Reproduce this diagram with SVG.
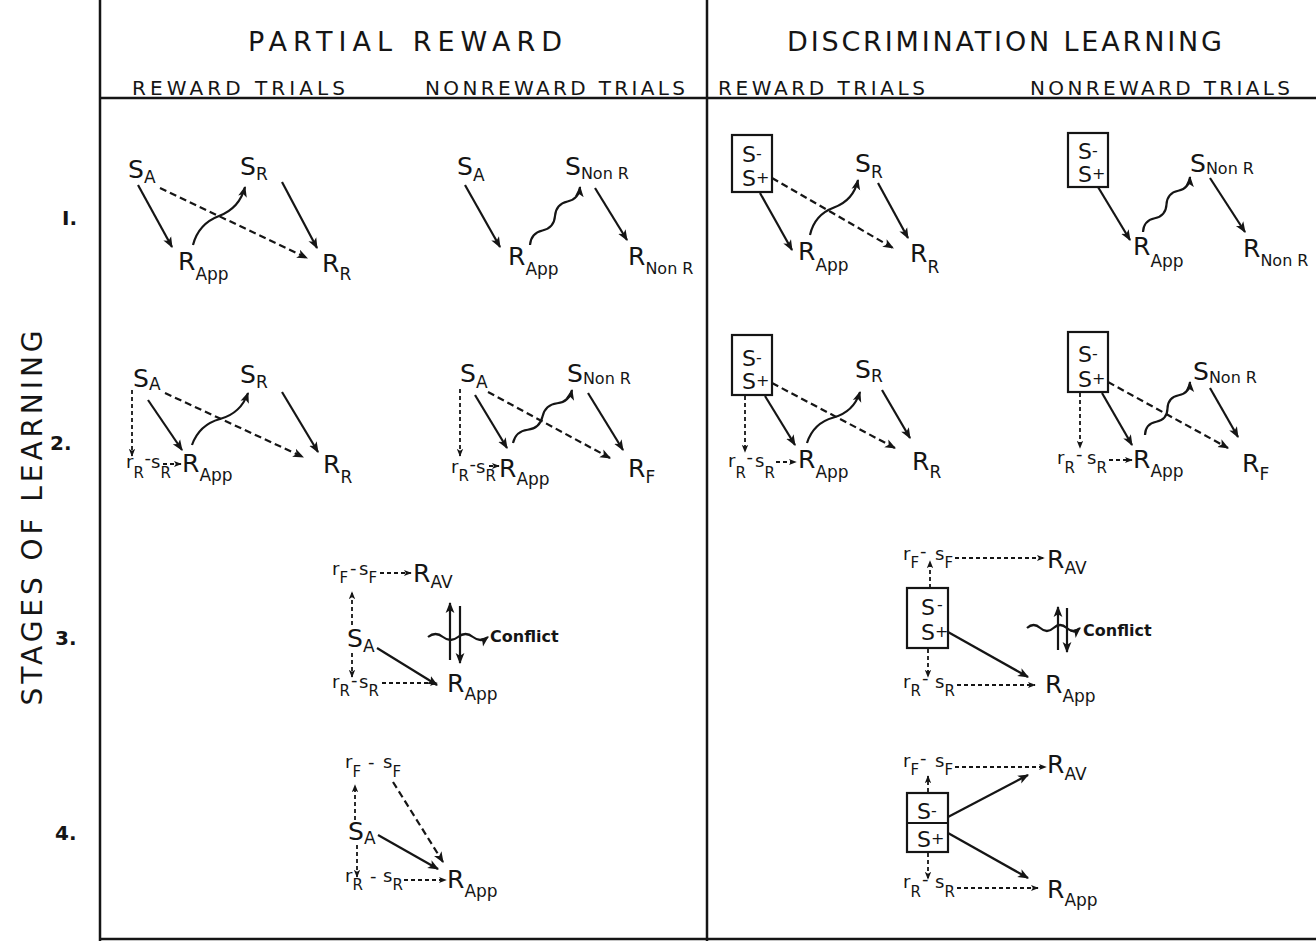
<svg xmlns="http://www.w3.org/2000/svg" width="1316" height="943" viewBox="0 0 1316 943">
<style>
text{font-family:"DejaVu Sans","Liberation Sans",Arial,sans-serif;fill:#151515}
.b{font-size:25px}
.sb{font-size:17px}
.nr{font-size:16px}
.lc{font-size:18px}
.ls{font-size:15px}
.h1{font-size:27px}
.h2{font-size:20px}
.bx{font-size:22px}
.pm{font-size:16px}
.cf{font-size:16px;font-weight:bold}
.num{font-size:20px;font-weight:bold}
.frame{stroke:#151515;stroke-width:2.5;fill:none}
.box{fill:none;stroke:#151515;stroke-width:2.2}
.s{fill:none;stroke:#151515;stroke-width:2.2;marker-end:url(#a)}
.d{fill:none;stroke:#151515;stroke-width:2.2;stroke-dasharray:7 4;marker-end:url(#a)}
.sd{fill:none;stroke:#151515;stroke-width:1.8;stroke-dasharray:4 3;marker-end:url(#a2)}
.w{fill:none;stroke:#151515;stroke-width:2.2;marker-end:url(#a)}
</style>
<defs>
<marker id="a" viewBox="0 0 10 10" refX="9" refY="5" markerWidth="11" markerHeight="11" markerUnits="userSpaceOnUse" orient="auto"><path d="M0,1 L10,5 L0,9 L2.5,5 z" fill="#151515"/></marker>
<marker id="a2" viewBox="0 0 10 10" refX="9" refY="5" markerWidth="8" markerHeight="8" markerUnits="userSpaceOnUse" orient="auto"><path d="M0,1 L10,5 L0,9 L2.5,5 z" fill="#151515"/></marker>
</defs>
<rect width="1316" height="943" fill="#fff"/>

<g id="frame">
<line class="frame" x1="100" y1="0" x2="100" y2="941"/>
<line class="frame" x1="707" y1="0" x2="707" y2="941"/>
<line class="frame" x1="100" y1="98" x2="1316" y2="98"/>
<line class="frame" x1="100" y1="939" x2="1316" y2="939"/>
</g>

<g id="headers">
<text class="h1" x="248" y="51" textLength="314" lengthAdjust="spacing">PARTIAL REWARD</text>
<text class="h1" x="787" y="51" textLength="435" lengthAdjust="spacing">DISCRIMINATION LEARNING</text>
<text class="h2" x="132" y="95" textLength="213" lengthAdjust="spacing">REWARD TRIALS</text>
<text class="h2" x="425" y="95" textLength="260" lengthAdjust="spacing">NONREWARD TRIALS</text>
<text class="h2" x="718" y="95" textLength="207" lengthAdjust="spacing">REWARD TRIALS</text>
<text class="h2" x="1030" y="95" textLength="260" lengthAdjust="spacing">NONREWARD TRIALS</text>
<text transform="translate(42,518) rotate(-90)" text-anchor="middle" font-size="28" textLength="375" lengthAdjust="spacing">STAGES OF LEARNING</text>
<text class="num" x="62" y="225">I.</text>
<text class="num" x="50" y="450">2.</text>
<text class="num" x="55" y="645">3.</text>
<text class="num" x="55" y="840">4.</text>
</g>

<!-- Stage 1 Partial reward, reward trials -->
<g id="s1pr-SA"><text class="b" x="128" y="178">S<tspan class="sb" dy="5">A</tspan></text></g>
<g id="s1pr-SR"><text class="b" x="240" y="175">S<tspan class="sb" dy="5">R</tspan></text></g>
<g id="s1pr-RApp"><text class="b" x="178" y="270">R<tspan class="sb" dy="10">App</tspan></text></g>
<g id="s1pr-RR"><text class="b" x="322" y="272">R<tspan class="sb" dy="8">R</tspan></text></g>

<!-- Stage 1 Partial reward, nonreward -->
<g id="s1pn-SA"><text class="b" x="457" y="175">S<tspan class="sb" dy="6">A</tspan></text></g>
<g id="s1pn-SNonR"><text class="b" x="565" y="175">S<tspan class="nr" dy="4">Non R</tspan></text></g>
<g id="s1pn-RApp"><text class="b" x="508" y="265">R<tspan class="sb" dy="10">App</tspan></text></g>
<g id="s1pn-RNonR"><text class="b" x="628" y="265">R<tspan class="nr" dy="9">Non R</tspan></text></g>

<!-- Stage 1 Discrimination, reward -->
<g id="s1dr-S"><rect class="box" x="732" y="135" width="40" height="57"/><text class="bx" x="742" y="162">S<tspan class="pm" dy="-3">-</tspan></text><text class="bx" x="742" y="186">S<tspan class="pm" dy="-3">+</tspan></text></g>
<g id="s1dr-SR"><text class="b" x="855" y="172">S<tspan class="sb" dy="6">R</tspan></text></g>
<g id="s1dr-RApp"><text class="b" x="798" y="260">R<tspan class="sb" dy="11">App</tspan></text></g>
<g id="s1dr-RR"><text class="b" x="910" y="262">R<tspan class="sb" dy="11">R</tspan></text></g>

<!-- Stage 1 Discrimination, nonreward -->
<g id="s1dn-S"><rect class="box" x="1068" y="133" width="40" height="54"/><text class="bx" x="1078" y="159">S<tspan class="pm" dy="-3">-</tspan></text><text class="bx" x="1078" y="182">S<tspan class="pm" dy="-3">+</tspan></text></g>
<g id="s1dn-SNonR"><text class="b" x="1190" y="172">S<tspan class="nr" dy="2">Non R</tspan></text></g>
<g id="s1dn-RApp"><text class="b" x="1133" y="255">R<tspan class="sb" dy="12">App</tspan></text></g>
<g id="s1dn-RNonR"><text class="b" x="1243" y="257">R<tspan class="nr" dy="9">Non R</tspan></text></g>

<!-- Stage 2 Partial reward, reward -->
<g id="s2pr-SA"><text class="b" x="133" y="387">S<tspan class="sb" dy="3">A</tspan></text></g>
<g id="s2pr-SR"><text class="b" x="240" y="383">S<tspan class="sb" dy="5">R</tspan></text></g>
<g id="s2pr-rR"><text class="lc"><tspan x="126" y="468">r</tspan><tspan class="ls" x="133.5" y="478">R</tspan><tspan x="144.5" y="464">-</tspan><tspan x="151" y="468">s</tspan><tspan class="ls" x="160.5" y="478">R</tspan></text></g>
<g id="s2pr-RApp"><text class="b" x="182" y="472">R<tspan class="sb" dy="9">App</tspan></text></g>
<g id="s2pr-RR"><text class="b" x="323" y="473">R<tspan class="sb" dy="10">R</tspan></text></g>

<!-- Stage 2 Partial reward, nonreward -->
<g id="s2pn-SA"><text class="b" x="460" y="382">S<tspan class="sb" dy="6">A</tspan></text></g>
<g id="s2pn-SNonR"><text class="b" x="567" y="382">S<tspan class="nr" dy="2">Non R</tspan></text></g>
<g id="s2pn-rR"><text class="lc"><tspan x="451" y="473">r</tspan><tspan class="ls" x="458.5" y="481">R</tspan><tspan x="469.5" y="470">-</tspan><tspan x="476" y="473">s</tspan><tspan class="ls" x="485.5" y="481">R</tspan></text></g>
<g id="s2pn-RApp"><text class="b" x="499" y="477">R<tspan class="sb" dy="8">App</tspan></text></g>
<g id="s2pn-RF"><text class="b" x="628" y="477">R<tspan class="sb" dy="6">F</tspan></text></g>

<!-- Stage 2 Discrimination, reward -->
<g id="s2dr-S"><rect class="box" x="732" y="335" width="40" height="60"/><text class="bx" x="742" y="366">S<tspan class="pm" dy="-3">-</tspan></text><text class="bx" x="742" y="389">S<tspan class="pm" dy="-3">+</tspan></text></g>
<g id="s2dr-SR"><text class="b" x="855" y="378">S<tspan class="sb" dy="4">R</tspan></text></g>
<g id="s2dr-rR"><text class="lc"><tspan x="728" y="467">r</tspan><tspan class="ls" x="735.5" y="478">R</tspan><tspan x="746.5" y="463">-</tspan><tspan x="755" y="467">s</tspan><tspan class="ls" x="764.5" y="478">R</tspan></text></g>
<g id="s2dr-RApp"><text class="b" x="798" y="468">R<tspan class="sb" dy="10">App</tspan></text></g>
<g id="s2dr-RR"><text class="b" x="912" y="470">R<tspan class="sb" dy="8">R</tspan></text></g>

<!-- Stage 2 Discrimination, nonreward -->
<g id="s2dn-S"><rect class="box" x="1068" y="332" width="40" height="60"/><text class="bx" x="1078" y="362">S<tspan class="pm" dy="-3">-</tspan></text><text class="bx" x="1078" y="387">S<tspan class="pm" dy="-3">+</tspan></text></g>
<g id="s2dn-SNonR"><text class="b" x="1193" y="380">S<tspan class="nr" dy="3">Non R</tspan></text></g>
<g id="s2dn-rR"><text class="lc"><tspan x="1057" y="464">r</tspan><tspan class="ls" x="1064.5" y="473">R</tspan><tspan x="1076" y="460">-</tspan><tspan x="1087" y="464">s</tspan><tspan class="ls" x="1096.5" y="473">R</tspan></text></g>
<g id="s2dn-RApp"><text class="b" x="1133" y="468">R<tspan class="sb" dy="9">App</tspan></text></g>
<g id="s2dn-RF"><text class="b" x="1242" y="472">R<tspan class="sb" dy="8">F</tspan></text></g>

<!-- Stage 3 Partial reward -->
<g id="s3p-rF"><text class="lc"><tspan x="332" y="575">r</tspan><tspan class="ls" x="339.5" y="583">F</tspan><tspan x="350" y="574">-</tspan><tspan x="359" y="575">s</tspan><tspan class="ls" x="368.5" y="583">F</tspan></text></g>
<g id="s3p-RAV"><text class="b" x="413" y="582">R<tspan class="sb" dy="6">AV</tspan></text></g>
<g id="s3p-SA"><text class="b" x="347" y="647">S<tspan class="sb" dy="5">A</tspan></text></g>
<g id="s3p-rR"><text class="lc"><tspan x="332" y="688">r</tspan><tspan class="ls" x="339.5" y="696">R</tspan><tspan x="351" y="686">-</tspan><tspan x="359" y="688">s</tspan><tspan class="ls" x="368.5" y="696">R</tspan></text></g>
<g id="s3p-RApp"><text class="b" x="447" y="692">R<tspan class="sb" dy="8">App</tspan></text></g>
<g id="s3p-conflict"><text class="cf" x="490" y="642">Conflict</text></g>

<!-- Stage 3 Discrimination -->
<g id="s3d-rF"><text class="lc"><tspan x="903" y="560">r</tspan><tspan class="ls" x="910.5" y="568">F</tspan><tspan x="920" y="557">-</tspan><tspan x="935" y="560">s</tspan><tspan class="ls" x="944.5" y="568">F</tspan></text></g>
<g id="s3d-RAV"><text class="b" x="1047" y="568">R<tspan class="sb" dy="6">AV</tspan></text></g>
<g id="s3d-S"><rect class="box" x="907" y="588" width="41" height="60"/><text class="bx" x="921" y="615">S<tspan class="pm" dx="2" dy="-5">-</tspan></text><text class="bx" x="921" y="640">S<tspan class="pm" dy="-3">+</tspan></text></g>
<g id="s3d-rR"><text class="lc"><tspan x="903" y="688">r</tspan><tspan class="ls" x="910.5" y="696">R</tspan><tspan x="922" y="684">-</tspan><tspan x="935" y="688">s</tspan><tspan class="ls" x="944.5" y="696">R</tspan></text></g>
<g id="s3d-RApp"><text class="b" x="1045" y="693">R<tspan class="sb" dy="9">App</tspan></text></g>
<g id="s3d-conflict"><text class="cf" x="1083" y="636">Conflict</text></g>

<!-- Stage 4 Partial reward -->
<g id="s4p-rF"><text class="lc"><tspan x="345" y="768">r</tspan><tspan class="ls" x="352.5" y="777">F</tspan><tspan x="368" y="768">-</tspan><tspan x="383" y="768">s</tspan><tspan class="ls" x="392.5" y="777">F</tspan></text></g>
<g id="s4p-SA"><text class="b" x="348" y="840">S<tspan class="sb" dy="4">A</tspan></text></g>
<g id="s4p-rR"><text class="lc"><tspan x="345" y="882">r</tspan><tspan class="ls" x="352.5" y="890">R</tspan><tspan x="370" y="882">-</tspan><tspan x="383" y="882">s</tspan><tspan class="ls" x="392.5" y="890">R</tspan></text></g>
<g id="s4p-RApp"><text class="b" x="447" y="888">R<tspan class="sb" dy="9">App</tspan></text></g>

<!-- Stage 4 Discrimination -->
<g id="s4d-rF"><text class="lc"><tspan x="903" y="767">r</tspan><tspan class="ls" x="910.5" y="775">F</tspan><tspan x="920" y="764">-</tspan><tspan x="935" y="767">s</tspan><tspan class="ls" x="944.5" y="775">F</tspan></text></g>
<g id="s4d-RAV"><text class="b" x="1047" y="773">R<tspan class="sb" dy="7">AV</tspan></text></g>
<g id="s4d-S"><rect class="box" x="907" y="793" width="41" height="59"/><line class="box" x1="907" y1="823" x2="948" y2="823"/><text class="bx" x="917" y="819">S<tspan class="pm" dy="-3">-</tspan></text><text class="bx" x="917" y="847">S<tspan class="pm" dy="-3">+</tspan></text></g>
<g id="s4d-rR"><text class="lc"><tspan x="903" y="888">r</tspan><tspan class="ls" x="910.5" y="897">R</tspan><tspan x="922" y="885">-</tspan><tspan x="935" y="888">s</tspan><tspan class="ls" x="944.5" y="897">R</tspan></text></g>
<g id="s4d-RApp"><text class="b" x="1047" y="898">R<tspan class="sb" dy="8">App</tspan></text></g>

<g id="connectors">
<!-- stage 1 PR reward -->
<line class="s" x1="138" y1="185" x2="172" y2="247"/>
<line class="d" x1="160" y1="188" x2="307" y2="258"/>
<path class="w" d="M193,245 Q198.5,223.8 219,216 T245,187"/>
<line class="s" x1="282" y1="182" x2="317" y2="248"/>
<!-- stage 1 PR nonreward -->
<line class="s" x1="465" y1="185" x2="500" y2="247"/>
<path class="w" d="M530,245 Q530.9,233.2 542.5,230.5 T555,216 T567.5,201.5 T580,187"/>
<line class="s" x1="595" y1="188" x2="627" y2="240"/>
<!-- stage 1 DR reward -->
<line class="s" x1="760" y1="193" x2="792" y2="250"/>
<line class="d" x1="772" y1="178" x2="893" y2="248"/>
<path class="w" d="M810,235 Q814.5,214.7 834,207.5 T858,180"/>
<line class="s" x1="878" y1="183" x2="908" y2="238"/>
<!-- stage 1 DR nonreward -->
<line class="s" x1="1098" y1="187" x2="1130" y2="240"/>
<path class="w" d="M1143,232 Q1143.6,220.6 1154.75,218.25 T1166.5,204.5 T1178.25,190.75 T1190,177"/>
<line class="s" x1="1210" y1="178" x2="1245" y2="232"/>
<!-- stage 2 PR reward -->
<line class="sd" x1="132" y1="390" x2="132" y2="456"/>
<line class="s" x1="148" y1="400" x2="182" y2="450"/>
<line class="d" x1="165" y1="393" x2="303" y2="457"/>
<path class="w" d="M192,445 Q199.2,424.7 220,419 T248,393"/>
<line class="s" x1="282" y1="392" x2="318" y2="452"/>
<line class="sd" x1="163" y1="464" x2="181" y2="464"/>
<!-- stage 2 PR nonreward -->
<line class="sd" x1="460" y1="389" x2="460" y2="456"/>
<line class="s" x1="475" y1="395" x2="507" y2="448"/>
<line class="d" x1="488" y1="392" x2="610" y2="458"/>
<path class="w" d="M513,443 Q515.7,431.2 527.75,429.75 T542.5,416.5 T557.25,403.25 T572,390"/>
<line class="s" x1="588" y1="393" x2="623" y2="450"/>
<line class="sd" x1="489" y1="466" x2="499" y2="466"/>
<!-- stage 2 DR reward -->
<line class="sd" x1="745" y1="396" x2="745" y2="452"/>
<line class="s" x1="765" y1="396" x2="795" y2="445"/>
<line class="d" x1="772" y1="383" x2="895" y2="448"/>
<path class="w" d="M807,443 Q813.3,423.1 833.5,417.5 T860,392"/>
<line class="s" x1="882" y1="390" x2="910" y2="438"/>
<line class="sd" x1="776" y1="462" x2="796" y2="462"/>
<!-- stage 2 DR nonreward -->
<line class="sd" x1="1080" y1="393" x2="1080" y2="448"/>
<line class="s" x1="1102" y1="393" x2="1132" y2="445"/>
<line class="d" x1="1108" y1="382" x2="1228" y2="448"/>
<path class="w" d="M1145,435 Q1145.3,423.9 1156.25,421.75 T1167.5,408.5 T1178.75,395.25 T1190,382"/>
<line class="s" x1="1210" y1="388" x2="1238" y2="437"/>
<line class="sd" x1="1109" y1="460" x2="1132" y2="460"/>
<!-- stage 3 PR -->
<line class="sd" x1="380" y1="573" x2="411" y2="573"/>
<line class="sd" x1="352" y1="625" x2="352" y2="592"/>
<line class="sd" x1="352" y1="653" x2="352" y2="677"/>
<line class="sd" x1="382" y1="683" x2="437" y2="683"/>
<line class="s" x1="377" y1="648" x2="437" y2="685"/>
<line class="s" x1="450" y1="660" x2="450" y2="603"/>
<line class="s" x1="460" y1="606" x2="460" y2="663"/>
<path class="w" d="M428,637 Q435.5,631 443,637 T458,637 T473,637 T488,637"/>
<!-- stage 3 DR -->
<line class="sd" x1="955" y1="558" x2="1044" y2="558"/>
<line class="sd" x1="930" y1="588" x2="930" y2="561"/>
<line class="sd" x1="928" y1="649" x2="928" y2="677"/>
<line class="sd" x1="957" y1="685" x2="1035" y2="685"/>
<line class="s" x1="948" y1="632" x2="1028" y2="677"/>
<line class="s" x1="1058" y1="650" x2="1058" y2="607"/>
<line class="s" x1="1067" y1="608" x2="1067" y2="652"/>
<path class="w" d="M1027,628 Q1033.6,622 1040.25,628 T1053.5,628 T1066.75,628 T1080,628"/>
<!-- stage 4 PR -->
<line class="sd" x1="355" y1="820" x2="355" y2="785"/>
<line class="sd" x1="357" y1="845" x2="357" y2="877"/>
<line class="sd" x1="404" y1="880" x2="446" y2="880"/>
<line class="s" x1="378" y1="835" x2="438" y2="869"/>
<line class="d" x1="393" y1="782" x2="443" y2="862"/>
<!-- stage 4 DR -->
<line class="sd" x1="955" y1="767" x2="1046" y2="767"/>
<line class="sd" x1="928" y1="792" x2="928" y2="776"/>
<line class="sd" x1="928" y1="853" x2="928" y2="879"/>
<line class="sd" x1="957" y1="888" x2="1038" y2="888"/>
<line class="s" x1="948" y1="817" x2="1028" y2="775"/>
<line class="s" x1="948" y1="833" x2="1028" y2="878"/>
</g>
</svg>
